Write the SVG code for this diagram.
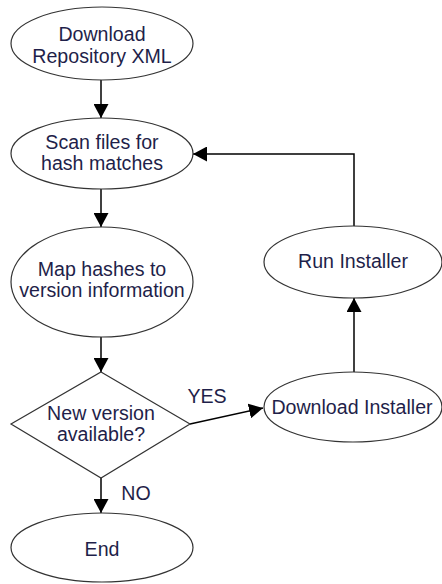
<svg xmlns="http://www.w3.org/2000/svg" width="442" height="584" viewBox="0 0 442 584">
  <style>
    .shape { fill: #ffffff; stroke: #333333; stroke-width: 1.2; }
    .label { font-family: "Liberation Sans", Arial, sans-serif; font-size: 19.6px; fill: #1f1f4a; text-anchor: middle; }
    .edge { fill: none; stroke: #000000; stroke-width: 1.5; }
  </style>
  <defs>
    <marker id="arrow" markerUnits="userSpaceOnUse" markerWidth="15" markerHeight="15" refX="14" refY="7.5" orient="auto">
      <path d="M0,0 L14,7.5 L0,15 z" fill="#000000"/>
    </marker>
  </defs>
  <rect width="442" height="584" fill="#ffffff"/>

  <!-- Connectors -->
  <g id="connectors">
    <path class="edge" d="M101,80 L101,118" marker-end="url(#arrow)"/>
    <path class="edge" d="M101,189 L101,227" marker-end="url(#arrow)"/>
    <path class="edge" d="M101,337 L101,372" marker-end="url(#arrow)"/>
    <path class="edge" d="M101,478 L101,513" marker-end="url(#arrow)"/>
    <path class="edge" d="M190,424 L263,408" marker-end="url(#arrow)"/>
    <path class="edge" d="M354,372 L354,298" marker-end="url(#arrow)"/>
    <path class="edge" d="M354,226 L354,154 L193,154" marker-end="url(#arrow)"/>
    <text class="label" x="207" y="403">YES</text>
    <text class="label" x="136" y="500">NO</text>
  </g>

  <!-- Nodes -->
  <g id="download-xml">
    <ellipse class="shape" cx="102" cy="43.5" rx="91" ry="36.5"/>
    <text class="label" x="102" y="41">Download</text>
    <text class="label" x="102" y="63">Repository XML</text>
  </g>
  <g id="scan-files">
    <ellipse class="shape" cx="102" cy="153.5" rx="91" ry="35.5"/>
    <text class="label" x="102" y="149">Scan files for</text>
    <text class="label" x="102" y="170">hash matches</text>
  </g>
  <g id="map-hashes">
    <ellipse class="shape" cx="102" cy="282" rx="91" ry="55"/>
    <text class="label" x="102" y="276">Map hashes to</text>
    <text class="label" x="102" y="297">version information</text>
  </g>
  <g id="new-version">
    <polygon class="shape" points="101,372 190,424 101,478 11,424"/>
    <text class="label" x="101" y="420">New version</text>
    <text class="label" x="101" y="441">available?</text>
  </g>
  <g id="end">
    <ellipse class="shape" cx="102" cy="547.5" rx="91" ry="34.5"/>
    <text class="label" x="102" y="556">End</text>
  </g>
  <g id="download-installer">
    <ellipse class="shape" cx="353" cy="407" rx="89" ry="35"/>
    <text class="label" x="352" y="414">Download Installer</text>
  </g>
  <g id="run-installer">
    <ellipse class="shape" cx="353" cy="262" rx="89" ry="36"/>
    <text class="label" x="353" y="268">Run Installer</text>
  </g>
</svg>
